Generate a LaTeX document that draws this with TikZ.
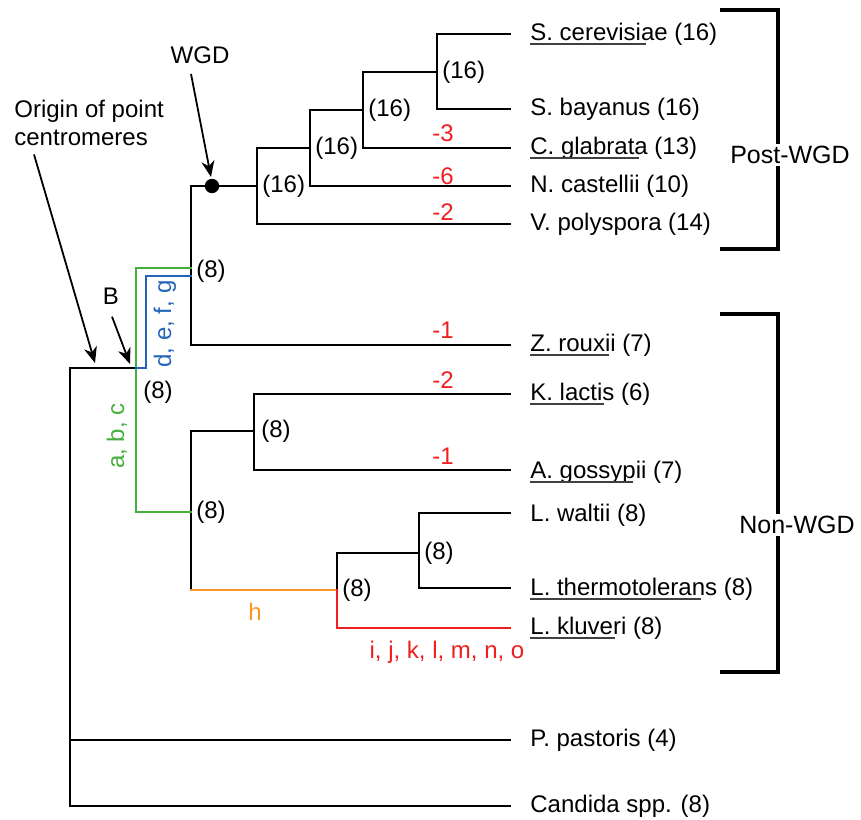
\documentclass[tikz,border=0pt]{standalone}
\usepackage{fontspec}
\setmainfont{Liberation Sans}
\usetikzlibrary{arrows.meta}

\definecolor{ancgreen}{RGB}{70,175,60}
\definecolor{ancblue}{RGB}{35,100,185}
\definecolor{ancorange}{RGB}{250,150,40}
\definecolor{lossred}{RGB}{240,30,30}

\begin{document}
\begin{tikzpicture}[
        x=0.5pt, y=-0.5pt,
        branch/.style={line width=1pt, line cap=rect},
        leaf/.style={anchor=west, inner sep=2pt, font=\fontsize{12}{14}\selectfont},
        count/.style={anchor=west, inner sep=2.5pt, font=\fontsize{12}{14}\selectfont},
        loss/.style={text=lossred, inner sep=1pt, font=\fontsize{12}{14}\selectfont},
        uline/.style={line width=0.8pt, black!75},
        callout/.style={-{Stealth[length=8pt, width=6.5pt, inset=2.5pt]}, line width=0.9pt},
        clade/.style={line width=1.6pt},
        group/.style={font=\fontsize{12.5}{15}\selectfont, inner sep=1pt}
    ]
        \useasboundingbox (0,0) rectangle (861,819);

        % Junctions of the tree
        \coordinate (root) at (70,368);
        \coordinate (bpt) at (136,368);
        \coordinate (bblue) at (146,368);
        \coordinate (up) at (191,268);
        \coordinate (upblue) at (191,276);
        \coordinate (wgd) at (191,186);
        \coordinate (dot) at (212,186);
        \coordinate (post) at (257,186);
        \coordinate (ncn) at (310,148);
        \coordinate (cgn) at (363,110);
        \coordinate (scn) at (437,72);
        \coordinate (low) at (191,512);
        \coordinate (kln) at (254,431);
        \coordinate (lan) at (337,590);
        \coordinate (lwn) at (419,553);

        % Leaf ends
        \coordinate (scer) at (510,34);
        \coordinate (sbay) at (510,109);
        \coordinate (cgla) at (510,148);
        \coordinate (ncas) at (510,186);
        \coordinate (vpol) at (510,224);
        \coordinate (zrou) at (510,345);
        \coordinate (klac) at (510,394);
        \coordinate (agos) at (510,470);
        \coordinate (lwal) at (510,513);
        \coordinate (lthe) at (510,588);
        \coordinate (lklu) at (510,628);
        \coordinate (ppas) at (510,740);
        \coordinate (cand) at (510,806);

        % Black branches
        \draw[branch] (root |- cand) -- (root) -- (bpt);
        \draw[branch] (root |- ppas) -- (ppas);
        \draw[branch] (root |- cand) -- (cand);
        \draw[branch] (zrou) -| (wgd) -- (post);
        \draw[branch] (vpol) -| (post) |- (ncn);
        \draw[branch] (ncas) -| (ncn) |- (cgn);
        \draw[branch] (cgla) -| (cgn) |- (scn);
        \draw[branch] (sbay) -| (scn) |- (scer);
        \draw[branch] (lan -| low) -- (low) |- (kln);
        \draw[branch] (klac) -| (kln) |- (agos);
        \draw[branch] (lan) |- (lwn);
        \draw[branch] (lwal) -| (lwn) |- (lthe);
        \draw[branch] (lan) -- (lan |- lwn);

        % Coloured branches
        \draw[branch, ancgreen] (up) -| (bpt) |- (low);
        \draw[branch, ancblue] (bpt) -- (bblue) |- (upblue);
        \draw[branch, ancorange] (lan -| low) -- (lan);
        \draw[branch, lossred] (lan) |- (lklu);

        % WGD event
        \fill (dot) circle (3.6pt);

        % Chromosome counts at junctions
        \node[count] (cscn) at (scn) {(16)};
        \node[count] (ccgn) at (cgn) {(16)};
        \node[count] (cncn) at (ncn) {(16)};
        \node[count] (cpost) at (post) {(16)};
        \node[count] (cup) at (191,271) {(8)};
        \node[count] (clow) at (low) {(8)};
        \node[count] (cbpt) at (138,392) {(8)};
        \node[count, inner sep=3.5pt] (ckln) at (kln) {(8)};
        \node[count] (clwn) at (lwn) {(8)};
        \node[count] (clan) at (lan) {(8)};

        % Losses
        \node[loss] (lcgla) at (443,133) {-3};
        \node[loss] (lncas) at (443,176) {-6};
        \node[loss] (lvpol) at (443,212) {-2};
        \node[loss] (lzrou) at (443,330) {-1};
        \node[loss] (lklac) at (443,380) {-2};
        \node[loss] (lagos) at (443,456) {-1};
        \node[loss] (lklu) at (447,652) {i, j, k, l, m, n, o};

        % Gains on the coloured branches
        \node[text=ancgreen, rotate=90, font=\fontsize{12}{14}\selectfont] (abc) at (117,436) {a, b, c};
        \node[text=ancblue, rotate=90, font=\fontsize{12}{14}\selectfont] (defg) at (165,324) {d, e, f, g};
        \node[text=ancorange, font=\fontsize{12}{14}\selectfont] (hlab) at (255,612) {h};

        % Leaf names
        \node[leaf] (nscer) at (526,34) {S. cerevisiae (16)};
        \node[leaf] (nsbay) at (526,109) {S. bayanus (16)};
        \node[leaf] (ncgla) at (526,148) {C. glabrata (13)};
        \node[leaf] (nncas) at (526,186) {N. castellii (10)};
        \node[leaf] (nvpol) at (526,224) {V. polyspora (14)};
        \node[leaf] (nzrou) at (526,345) {Z. rouxii (7)};
        \node[leaf] (nklac) at (526,394) {K. lactis (6)};
        \node[leaf] (nagos) at (526,472) {A. gossypii (7)};
        \node[leaf] (nlwal) at (526,515) {L. waltii (8)};
        \node[leaf] (nlthe) at (526,589) {L. thermotolerans (8)};
        \node[leaf] (nlklu) at (526,628) {L. kluveri (8)};
        \node[leaf] (nppas) at (526,740) {P. pastoris (4)};
        \node[leaf] (ncand) at (526,806) {Candida spp. (8)};

        % Underlined names
        \draw[uline] ([xshift=2pt, yshift=-2pt]nscer.base west) -- ++(116,0);
        \draw[uline] ([xshift=2pt, yshift=-2pt]ncgla.base west) -- ++(109,0);
        \draw[uline] ([xshift=2pt, yshift=-2pt]nzrou.base west) -- ++(79,0);
        \draw[uline] ([xshift=2pt, yshift=-2pt]nklac.base west) -- ++(74,0);
        \draw[uline] ([xshift=2pt, yshift=-2pt]nagos.base west) -- ++(103,0);
        \draw[uline] ([xshift=2pt, yshift=-2pt]nlthe.base west) -- ++(171,0);
        \draw[uline] ([xshift=2pt, yshift=-2pt]nlklu.base west) -- ++(85,0);

        % Groups
        \node[group] (postwgd) at (790,155) {Post-WGD};
        \node[group] (nonwgd) at (797,525) {Non-WGD};
        \draw[clade] (720,10) -| (postwgd.north -| 778,0);
        \draw[clade] (720,249) -| (postwgd.south -| 778,0);
        \draw[clade] (720,314) -| (nonwgd.north -| 778,0);
        \draw[clade] (720,672) -| (nonwgd.south -| 778,0);

        % Callouts
        \node[font=\fontsize{12}{14}\selectfont, align=left, anchor=north west, inner sep=0pt] (origin) at (14,100) {Origin of point\\centromeres};
        \node[font=\fontsize{12}{14}\selectfont, inner sep=1pt] (wgdlab) at (200,55) {WGD};
        \node[font=\fontsize{12}{14}\selectfont, inner sep=1pt] (blab) at (111,296) {B};
        \coordinate (origintip) at (95,363);
        \coordinate (btip) at (130,364);
        \coordinate (wgdtip) at (211,177);
        \draw[callout] ([xshift=10pt, yshift=-4pt]origin.south west) -- (origintip);
        \draw[callout] ([xshift=0.5pt, yshift=-5pt]blab.south) -- (btip);
        \draw[callout] ([xshift=-4.5pt, yshift=-4pt]wgdlab.south) -- (wgdtip);
    \end{tikzpicture}
\end{document}
